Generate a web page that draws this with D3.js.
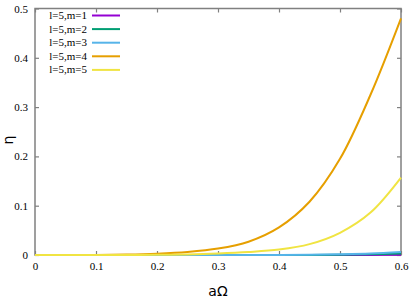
<!DOCTYPE html>
<html>
<head>
<meta charset="utf-8">
<script src="https://d3js.org/d3.v7.min.js"></script>
<style>
  body { margin: 0; background: #fff; }
  svg { display: block; }
  .tick text { font-family: "Liberation Serif", "DejaVu Serif", serif; font-size: 11px; fill: #000; }
</style>
</head>
<body>
<script>
// aΩ sample points
var aOmega = [0, 0.05, 0.1, 0.15, 0.2, 0.25, 0.3, 0.35, 0.4, 0.45, 0.5, 0.55, 0.6];
// eta values, one array per mode
var m1 = [0, 0, 0, 0, 0, 0, 0, 0, 0, 0.00005, 0.0001, 0.0002, 0.0005];
var m2 = [0, 0, 0, 0, 0, 0, 0, 0, 0.00005, 0.0002, 0.0005, 0.0013, 0.003];
var m3 = [0, 0, 0, 0, 0, 0, 0.00002, 0.00008, 0.0002, 0.0006, 0.0015, 0.003, 0.006];
var m4 = [0, 0, 0.0002, 0.0008, 0.0025, 0.006, 0.013, 0.027, 0.056, 0.108, 0.195, 0.325, 0.48];
var m5 = [0, 0, 0, 0.0001, 0.0005, 0.0012, 0.003, 0.006, 0.011, 0.022, 0.045, 0.086, 0.157];
var labels = ["l=5,m=1", "l=5,m=2", "l=5,m=3", "l=5,m=4", "l=5,m=5"];
var colors = ["#9400d3", "#009e73", "#56b4e9", "#e69f00", "#f0e442"];
var xTicks = [0, 0.1, 0.2, 0.3, 0.4, 0.5, 0.6];
var yTicks = [0, 0.1, 0.2, 0.3, 0.4, 0.5];

var series = [m1, m2, m3, m4, m5];
var W = 409, H = 298;
var pL = 35, pR = 401, pT = 8.5, pB = 255;

var svg = d3.select("body").append("svg").attr("width", W).attr("height", H);

var x = d3.scaleLinear().domain([0, 0.6]).range([pL, pR]);
var y = d3.scaleLinear().domain([0, 0.5]).range([pB, pT]);

var fmt = function(d) { return d === 0 ? "0" : d3.format(".1f")(d); };

// axes with inward ticks
var gx = svg.append("g").attr("transform", "translate(0," + pB + ")")
  .call(d3.axisBottom(x).tickValues(xTicks).tickFormat(fmt).tickSizeInner(-4).tickSizeOuter(0).tickPadding(7));
var gy = svg.append("g").attr("transform", "translate(" + pL + ",0)")
  .call(d3.axisLeft(y).tickValues(yTicks).tickFormat(fmt).tickSizeInner(-4).tickSizeOuter(0).tickPadding(7));
var gt = svg.append("g").attr("transform", "translate(0," + pT + ")")
  .call(d3.axisTop(x).tickValues(xTicks).tickFormat("").tickSizeInner(-4).tickSizeOuter(0));
var gr = svg.append("g").attr("transform", "translate(" + pR + ",0)")
  .call(d3.axisRight(y).tickValues(yTicks).tickFormat("").tickSizeInner(-4).tickSizeOuter(0));
[gx, gy, gt, gr].forEach(function(g) {
  g.select(".domain").remove();
  g.selectAll(".tick line").attr("stroke", "#808080").attr("stroke-width", 1.2);
});

svg.append("rect").attr("x", pL).attr("y", pT)
  .attr("width", pR - pL).attr("height", pB - pT)
  .attr("fill", "none").attr("stroke", "#808080").attr("stroke-width", 1.5);

var line = d3.line()
  .x(function(d, i) { return x(aOmega[i]); })
  .y(function(d) { return y(d); })
  .curve(d3.curveCatmullRom.alpha(0.5));

series.forEach(function(s, k) {
  svg.append("path").datum(s)
    .attr("d", line)
    .attr("fill", "none")
    .attr("stroke", colors[k])
    .attr("stroke-width", 2);
});

// legend
var leg = svg.append("g");
labels.forEach(function(t, k) {
  var yy = 15.5 + k * 13.6;
  leg.append("text").attr("x", 87).attr("y", yy + 3.5)
    .attr("text-anchor", "end")
    .style("font-family", "'Liberation Serif', serif").style("font-size", "11px")
    .text(t);
  leg.append("line").attr("x1", 92).attr("x2", 120).attr("y1", yy).attr("y2", yy)
    .attr("stroke", colors[k]).attr("stroke-width", 2);
});

// axis titles
svg.append("text").attr("x", 218).attr("y", 296)
  .attr("text-anchor", "middle")
  .style("font-family", "'DejaVu Sans', sans-serif").style("font-size", "14px")
  .text("aΩ");
svg.append("text")
  .attr("transform", "translate(13,140) rotate(-90)")
  .attr("text-anchor", "middle")
  .style("font-family", "'DejaVu Sans', sans-serif").style("font-size", "14px")
  .text("η");
</script>
</body>
</html>
